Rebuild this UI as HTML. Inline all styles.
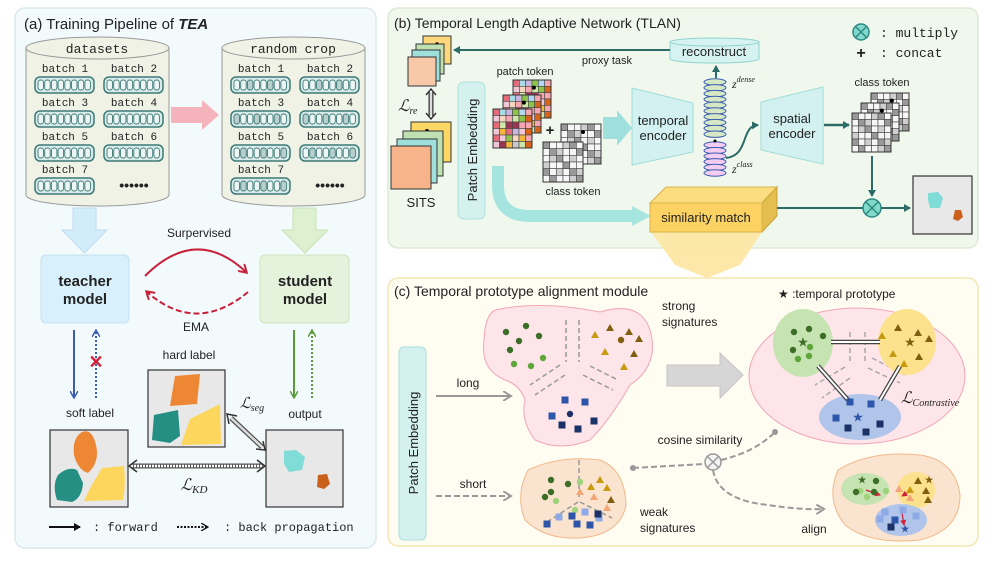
<!DOCTYPE html>
<html><head><meta charset="utf-8"><style>
html,body{margin:0;padding:0;background:#fff}
svg{display:block}
text{font-family:"Liberation Sans",sans-serif;fill:#222}
.m{font-family:"Liberation Mono",monospace}
.i{font-family:"Liberation Serif",serif;font-style:italic}
</style></head><body>
<svg id="s" width="996" height="561" viewBox="0 0 996 561" xmlns="http://www.w3.org/2000/svg">
<defs>
<marker id="ah" markerWidth="8" markerHeight="8" refX="6" refY="4" orient="auto" markerUnits="userSpaceOnUse"><path d="M0,0 L7,4 L0,8 z" fill="#2d6b66"/></marker>
<marker id="ar" markerWidth="10" markerHeight="10" refX="7" refY="5" orient="auto" markerUnits="userSpaceOnUse"><path d="M0,0 L8,5 L0,10" fill="none" stroke="#c8203a" stroke-width="2"/></marker>
<marker id="ab" markerWidth="8" markerHeight="8" refX="6" refY="4" orient="auto" markerUnits="userSpaceOnUse"><path d="M0,0 L7,4 L0,8" fill="none" stroke="#3a5db0" stroke-width="1.5"/></marker>
<marker id="ag" markerWidth="8" markerHeight="8" refX="6" refY="4" orient="auto" markerUnits="userSpaceOnUse"><path d="M0,0 L7,4 L0,8" fill="none" stroke="#5a9a3a" stroke-width="1.5"/></marker>
<marker id="agr" markerWidth="10" markerHeight="10" refX="7" refY="5" orient="auto" markerUnits="userSpaceOnUse"><path d="M0,0 L8,5 L0,10" fill="none" stroke="#999" stroke-width="2"/></marker>
<marker id="ak" markerWidth="8" markerHeight="8" refX="6" refY="4" orient="auto" markerUnits="userSpaceOnUse"><path d="M0,0 L7,4 L0,8 z" fill="#111"/></marker>
<marker id="akd" markerWidth="8" markerHeight="8" refX="6" refY="4" orient="auto" markerUnits="userSpaceOnUse"><path d="M0,0 L7,4 L0,8" fill="none" stroke="#111" stroke-width="1.3"/></marker>
<marker id="rr" markerWidth="6" markerHeight="6" refX="5" refY="3" orient="auto" markerUnits="userSpaceOnUse"><path d="M0,0 L6,3 L0,6 z" fill="#d0203a"/></marker>
</defs>

<!-- Panel A -->
<rect x="15" y="8" width="361" height="540" rx="10" fill="#f3fafc" stroke="#dce8ec" stroke-width="1.5"/>
<text x="24" y="29" font-size="15">(a) Training Pipeline of <tspan font-style="italic" font-weight="bold">TEA</tspan></text>

<g id="cyl1">
<path d="M26,48 L26,195 A71.5,11 0 0 0 169,195 L169,48" fill="#f1f2e6" stroke="#999" stroke-width="1"/>
<ellipse cx="97.5" cy="48" rx="71.5" ry="11" fill="#f1f2e6" stroke="#999"/>
</g>
<text x="97" y="53" font-size="13" class="m" text-anchor="middle">datasets</text>
<path d="M222,48 L222,195 A71.5,11 0 0 0 365,195 L365,48" fill="#f1f2e6" stroke="#999"/>
<ellipse cx="293.5" cy="48" rx="71.5" ry="11" fill="#f1f2e6" stroke="#999"/>
<text x="293" y="53" font-size="13" class="m" text-anchor="middle">random crop</text>
<g id="pills"></g>
<text x="134" y="190" font-size="14" text-anchor="middle" font-weight="bold">••••••</text>
<text x="330" y="190" font-size="14" text-anchor="middle" font-weight="bold">••••••</text>

<path d="M171,107 L202,107 L202,100 L219,115 L202,130 L202,123 L171,123 z" fill="#f4a6b0" opacity="0.85"/>
<path d="M73,208 L96,208 L96,230 L107,230 L84.5,253 L62,230 L73,230 z" fill="#d3ecfa" stroke="#bfdcf0"/>
<path d="M293,208 L316,208 L316,230 L328,230 L305,253 L282,230 L293,230 z" fill="#ddf0cf" stroke="#c8e2b5"/>

<rect x="41" y="255" width="88" height="68" rx="5" fill="#d8f0fb" stroke="#c3e0ef"/>
<text x="85" y="286" font-size="15" font-weight="bold" text-anchor="middle">teacher</text>
<text x="85" y="304" font-size="15" font-weight="bold" text-anchor="middle">model</text>
<rect x="260" y="255" width="89" height="68" rx="5" fill="#e6f3dc" stroke="#cfe5bf"/>
<text x="305" y="286" font-size="15" font-weight="bold" text-anchor="middle">student</text>
<text x="305" y="304" font-size="15" font-weight="bold" text-anchor="middle">model</text>

<text x="199" y="237" font-size="12" text-anchor="middle">Surpervised</text>
<path d="M145,276 Q196,225 246,272" fill="none" stroke="#c8203a" stroke-width="2" marker-end="url(#ar)"/>
<path d="M248,292 Q196,335 147,292" fill="none" stroke="#c8203a" stroke-width="2" stroke-dasharray="6,3" marker-end="url(#ar)"/>
<text x="196" y="331" font-size="12" text-anchor="middle">EMA</text>

<line x1="74" y1="330" x2="74" y2="397" stroke="#3a5db0" stroke-width="2" marker-end="url(#ab)"/>
<line x1="96" y1="398" x2="96" y2="331" stroke="#3a5db0" stroke-width="2" stroke-dasharray="2,2" marker-end="url(#ab)"/>
<text x="96" y="368" font-size="18" font-weight="bold" fill="#d0203a" text-anchor="middle" style="fill:#d0203a">✕</text>
<line x1="294" y1="330" x2="294" y2="397" stroke="#5a9a3a" stroke-width="2" marker-end="url(#ag)"/>
<line x1="312" y1="398" x2="312" y2="331" stroke="#5a9a3a" stroke-width="2" stroke-dasharray="2,2" marker-end="url(#ag)"/>

<text x="90" y="417" font-size="12" text-anchor="middle">soft label</text>
<text x="189" y="359" font-size="12" text-anchor="middle">hard label</text>
<text x="305" y="418" font-size="12" text-anchor="middle">output</text>

<rect x="50" y="430" width="78" height="77" fill="#e8e8e8" stroke="#333" stroke-width="1.2"/>
<path d="M82,432 Q92,428 96,445 Q100,462 88,473 Q78,470 74,455 Q72,438 82,432z" fill="#ee8733"/>
<path d="M58,475 Q68,466 77,470 L83,483 Q82,498 72,502 L57,500 Q52,485 58,475z" fill="#258f84"/>
<path d="M102,468 L124,466 Q126,485 123,500 L84,501 L90,488z" fill="#fdd65e"/>
<rect x="148" y="370" width="77" height="77" fill="#e8e8e8" stroke="#333" stroke-width="1.2"/>
<path d="M175,376 L200,374 L197,404 L170,406z" fill="#ee8733"/>
<path d="M154,415 L178,410 L180,436 L170,443 L152,440z" fill="#258f84"/>
<path d="M190,419 L220,404 L221,444 L181,445z" fill="#fdd65e"/>
<rect x="266" y="430" width="77" height="77" fill="#e8e8e8" stroke="#333" stroke-width="1.2"/>
<path d="M284,451 L296,450 L305,457 L302,470 L289,472 L284,464z" fill="#7fdcd6"/>
<path d="M318,475 L327,474 L330,484 L324,489 L317,487z" fill="#c9611c"/>

<line x1="131" y1="466" x2="263" y2="466" stroke="#555" stroke-width="5"/>
<line x1="131" y1="466" x2="263" y2="466" stroke="#fff" stroke-width="2.5" stroke-dasharray="2,1"/>
<path d="M137,460 L129,466 L137,472 M257,460 L265,466 L257,472" fill="none" stroke="#333" stroke-width="1.5"/>
<text x="194" y="490" font-size="16" class="i" text-anchor="middle">ℒ<tspan font-size="11" dy="3">KD</tspan></text>
<line x1="231" y1="418" x2="262" y2="447" stroke="#555" stroke-width="5"/>
<line x1="231" y1="418" x2="262" y2="447" stroke="#ddd" stroke-width="2.5"/>
<path d="M229,424 L227,414 L237,416 M256,449 L265,450 L263,441" fill="none" stroke="#333" stroke-width="1.5"/>
<text x="252" y="408" font-size="15" class="i" text-anchor="middle">ℒ<tspan font-size="10" dy="3">seg</tspan></text>

<line x1="49" y1="527" x2="80" y2="527" stroke="#111" stroke-width="2" marker-end="url(#ak)"/>
<text x="93" y="531" font-size="12" class="m">: forward</text>
<line x1="177" y1="527" x2="207" y2="527" stroke="#111" stroke-width="2" stroke-dasharray="2,1.5" marker-end="url(#akd)"/>
<text x="224" y="531" font-size="12" class="m">: back propagation</text>

<!-- Panel B -->
<rect x="388" y="8" width="590" height="240" rx="10" fill="#f0f8ed" stroke="#dde9d6" stroke-width="1.5"/>
<text x="394" y="28" font-size="14">(b) Temporal Length Adaptive Network (TLAN)</text>
<circle cx="861" cy="32" r="8" fill="#83d8cc" stroke="#2d8a80" stroke-width="1.5"/>
<path d="M855.5,26.5 L866.5,37.5 M866.5,26.5 L855.5,37.5" stroke="#2d8a80" stroke-width="1.5"/>
<text x="880" y="37" font-size="13" class="m">: multiply</text>
<text x="861" y="58" font-size="16" font-weight="bold" text-anchor="middle">+</text>
<text x="880" y="57" font-size="13" class="m">: concat</text>

<path d="M670,42 L670,59 A44.5,4 0 0 0 759,59 L759,42" fill="#d6f3f1" stroke="#8fd3cd"/>
<ellipse cx="714.5" cy="42" rx="44.5" ry="4" fill="#d6f3f1" stroke="#8fd3cd"/>
<text x="714" y="56" font-size="13" text-anchor="middle">reconstruct</text>
<line x1="670" y1="50" x2="454" y2="50" stroke="#2d6b66" stroke-width="2" marker-end="url(#ah)"/>
<text x="607" y="64" font-size="11" text-anchor="middle">proxy task</text>

<rect x="423" y="36" width="28" height="28" fill="#fcd87a" stroke="#333"/>
<circle cx="437" cy="44" r="1.8" fill="#000"/>
<rect x="416" y="44" width="28" height="30" fill="#bfe0b0" stroke="#333"/>
<rect x="412" y="50" width="28" height="31" fill="#9fe0dc" stroke="#333"/>
<rect x="408" y="57" width="28" height="29" fill="#f8c9a8" stroke="#333"/>
<line x1="431" y1="92" x2="431" y2="116" stroke="#333" stroke-width="5"/>
<line x1="431" y1="92" x2="431" y2="116" stroke="#ddd" stroke-width="2.5"/>
<path d="M426,95 L431,89 L436,95 M426,113 L431,119 L436,113" fill="none" stroke="#333" stroke-width="1.4"/>
<text x="398" y="111" font-size="16" class="i">ℒ<tspan font-size="10" dy="3">re</tspan></text>
<rect x="411" y="122" width="40" height="40" fill="#fcd766" stroke="#333"/>
<circle cx="427" cy="131" r="2" fill="#000"/>
<rect x="403" y="131" width="40" height="45" fill="#bfe0b0" stroke="#333"/>
<rect x="397" y="139" width="40" height="44" fill="#9fe0dc" stroke="#333"/>
<rect x="391" y="146" width="40" height="43" fill="#f7b48a" stroke="#333"/>
<text x="421" y="207" font-size="13" text-anchor="middle">SITS</text>

<rect x="458" y="82" width="27" height="137" rx="6" fill="#d4f1ef" stroke="#a9e1dc"/>
<text transform="translate(477,150) rotate(-90)" font-size="13" text-anchor="middle">Patch Embedding</text>

<g id="grids"></g>
<text x="525" y="75" font-size="11" text-anchor="middle">patch token</text>
<text x="550" y="135" font-size="15" font-weight="bold" text-anchor="middle">+</text>
<text x="573" y="195" font-size="11" text-anchor="middle">class token</text>
<text x="882" y="86" font-size="11" text-anchor="middle">class token</text>

<path d="M603,117 L617,117 L617,110 L632,128 L617,146 L617,139 L603,139 z" fill="#9fe0dc"/>
<path d="M632,88 L693,103 L693,152 L632,165 z" fill="#d2f1f0" stroke="#9fdcd6"/>
<text x="663" y="125" font-size="13" text-anchor="middle">temporal</text>
<text x="663" y="140" font-size="13" text-anchor="middle">encoder</text>
<path d="M761,102 L823,87 L823,164 L761,150 z" fill="#d2f1f0" stroke="#9fdcd6"/>
<text x="792" y="123" font-size="13" text-anchor="middle">spatial</text>
<text x="792" y="138" font-size="13" text-anchor="middle">encoder</text>
<g id="zst"></g>
<line x1="716" y1="78" x2="716" y2="66" stroke="#2d6b66" stroke-width="2" marker-end="url(#ah)"/>
<text x="732" y="88" font-size="12" class="i">z<tspan font-size="8" dy="-6">dense</tspan></text>
<text x="732" y="173" font-size="12" class="i">z<tspan font-size="8" dy="-6">class</tspan></text>
<path d="M726,158 C750,155 740,126 758,125" fill="none" stroke="#2d6b66" stroke-width="2" marker-end="url(#ah)"/>
<line x1="824" y1="125" x2="849" y2="125" stroke="#2d6b66" stroke-width="2.5" marker-end="url(#ah)"/>
<line x1="872" y1="156" x2="872" y2="196" stroke="#2d6b66" stroke-width="2" marker-end="url(#ah)"/>

<path d="M498,166 L498,185 Q498,216 530,216 L634,216" fill="none" stroke="#a6e4df" stroke-width="12"/>
<path d="M632,206 L651,216 L632,226 z" fill="#a6e4df"/>

<path d="M651,232 L762,232 L740,265 L707,278 L675,265 z" fill="#fde6a0" opacity="0.9"/>
<path d="M650,203 L666,187 L777,187 L762,203 z" fill="#fbdc7e" stroke="#d8b34a"/>
<path d="M762,203 L777,187 L777,216 L762,232 z" fill="#e4bf50" stroke="#c9a43b"/>
<rect x="650" y="203" width="112" height="29" fill="#fcd262" stroke="#d8b34a"/>
<text x="706" y="222" font-size="13" text-anchor="middle">similarity match</text>
<line x1="777" y1="208" x2="863" y2="208" stroke="#2d6b66" stroke-width="2"/>
<circle cx="872" cy="208" r="9" fill="#83d8cc" stroke="#2d8a80" stroke-width="1.5"/>
<path d="M866,202 L878,214 M878,202 L866,214" stroke="#2d8a80" stroke-width="1.5"/>
<line x1="881" y1="208" x2="910" y2="208" stroke="#2d6b66" stroke-width="2" marker-end="url(#ah)"/>
<rect x="913" y="176" width="59" height="58" fill="#e8e8e8" stroke="#333" stroke-width="1.2"/>
<path d="M928,193 L938,192 L943,198 L940,208 L930,208 L928,200z" fill="#7fdcd6"/>
<path d="M955,210 L961,210 L963,217 L958,221 L953,219z" fill="#c9611c"/>

<!-- Panel C -->
<rect x="388" y="278" width="590" height="268" rx="10" fill="#fffcf1" stroke="#f6e6b2" stroke-width="1.5"/>
<text x="394" y="296" font-size="14">(c) Temporal prototype alignment module</text>
<rect x="399" y="347" width="27" height="193" rx="5" fill="#d4f1ef" stroke="#a9e1dc"/>
<text transform="translate(418,443) rotate(-90)" font-size="13" text-anchor="middle">Patch Embedding</text>

<path d="M495,310 Q540,300 600,312 Q640,300 650,330 Q660,365 630,385 Q610,420 590,440 Q560,452 535,440 Q520,420 525,400 Q520,385 505,380 Q480,370 484,340 Q485,315 495,310z" fill="#fde5ea" stroke="#f1a6b6"/>
<path d="M566,320 L566,362 M579,320 L579,362 M560,365 L530,385 M565,375 L535,395 M583,375 L613,390 M590,366 L618,380" stroke="#999" stroke-width="1.5" stroke-dasharray="5,3"/>
<text x="662" y="310" font-size="12">strong</text>
<text x="662" y="326" font-size="12">signatures</text>
<line x1="436" y1="396" x2="510" y2="396" stroke="#999" stroke-width="2" marker-end="url(#agr)"/>
<text x="468" y="387" font-size="12" text-anchor="middle">long</text>
<line x1="436" y1="496" x2="510" y2="496" stroke="#999" stroke-width="2" stroke-dasharray="6,3" marker-end="url(#agr)"/>
<text x="473" y="488" font-size="12" text-anchor="middle">short</text>
<path d="M528,470 Q560,455 600,460 Q625,470 626,505 Q620,535 580,538 Q545,540 525,520 Q515,495 528,470z" fill="#fbe4cf" stroke="#f1b88a"/>
<path d="M579,460 L579,500 M578,502 L547,522 M580,502 L612,518" stroke="#999" stroke-width="1.5" stroke-dasharray="5,3"/>
<text x="640" y="516" font-size="12">weak</text>
<text x="640" y="532" font-size="12">signatures</text>

<path d="M667,365 L720,365 L720,353 L743,375 L720,398 L720,386 L667,386 z" fill="#d6d6d6" stroke="#c4c4c4"/>
<ellipse cx="857" cy="376" rx="108" ry="68" fill="#fde5ea" stroke="#f1a6b6"/>
<path d="M850,332 L850,362 M865,332 L865,362 M845,367 L815,385 M850,378 L822,398 M868,368 L900,383 M872,358 L905,375" stroke="#aaa" stroke-width="1.5" stroke-dasharray="5,3"/>
<ellipse cx="803" cy="343" rx="30" ry="34" fill="#c6e3b2"/>
<ellipse cx="907" cy="342" rx="29" ry="33" fill="#fde28d"/>
<ellipse cx="860" cy="417" rx="41" ry="23" fill="#b1c5ea"/>
<text x="778" y="298" font-size="12">★ :temporal prototype</text>
<text x="901" y="403" font-size="16" class="i">ℒ<tspan font-size="10" dy="3">Contrastive</tspan></text>
<g stroke="#444" stroke-width="4.5"><line x1="831" y1="342" x2="880" y2="342"/><line x1="818" y1="366" x2="848" y2="400"/><line x1="900" y1="366" x2="880" y2="400"/></g>
<g stroke="#fff" stroke-width="2"><line x1="831" y1="342" x2="880" y2="342"/><line x1="818" y1="366" x2="848" y2="400"/><line x1="900" y1="366" x2="880" y2="400"/></g>

<text x="700" y="444" font-size="12" text-anchor="middle">cosine similarity</text>
<path d="M633,468 L704,464" fill="none" stroke="#999" stroke-width="2" stroke-dasharray="6,3"/>
<circle cx="633" cy="468" r="3" fill="#999"/>
<path d="M721,460 Q755,452 775,432" fill="none" stroke="#999" stroke-width="2" stroke-dasharray="6,3"/>
<circle cx="775" cy="432" r="3" fill="#999"/>
<circle cx="713" cy="462" r="8" fill="#f4f4f4" stroke="#999" stroke-width="1.5"/>
<path d="M707.5,456.5 L718.5,467.5 M718.5,456.5 L707.5,467.5" stroke="#999" stroke-width="1.5"/>
<path d="M713,470 Q718,500 768,505 Q800,510 823,509" fill="none" stroke="#999" stroke-width="2" stroke-dasharray="6,3" marker-end="url(#agr)"/>
<text x="814" y="533" font-size="12" text-anchor="middle">align</text>
<path d="M838,470 Q870,450 920,455 Q955,460 960,495 Q960,530 920,540 Q870,545 845,525 Q825,500 838,470z" fill="#fbe4cf" stroke="#f1b88a"/>
<ellipse cx="865" cy="489" rx="24" ry="16" fill="#c6e3b2"/>
<ellipse cx="916" cy="490" rx="19" ry="18" fill="#fde28d"/>
<ellipse cx="901" cy="520" rx="26" ry="16" fill="#b1c5ea"/>
<g stroke="#d0203a" stroke-width="1.2"><line x1="866" y1="490" x2="880" y2="495" marker-end="url(#rr)"/><line x1="912" y1="490" x2="902" y2="496" marker-end="url(#rr)"/><line x1="902" y1="513" x2="904" y2="525" marker-end="url(#rr)"/></g>
<g id="pts"></g>
</svg>
<script>
var NS="http://www.w3.org/2000/svg";
function el(p,t,a){var e=document.createElementNS(NS,t);for(var k in a)e.setAttribute(k,a[k]);p.appendChild(e);return e;}
var P=document.getElementById('pills');
var xs=[35,104],ys=[77,111,145,178];
function pill(x,y,crop){el(P,'rect',{x:x,y:y,width:59,height:16,rx:5,fill:'#d9ebe9',stroke:'#3c7a78','stroke-width':1.5});
for(var i=0;i<8;i++){el(P,'rect',{x:x+3+i*6.7,y:y+3,width:5.5,height:10,rx:2.5,fill:(crop&&(i%3==(y%3)))?'#b9cfcd':'#eef6f5',stroke:'#3c7a78','stroke-width':0.9});}}
function lbl(x,y,t){var e=el(P,'text',{x:x,y:y,'font-size':11,'class':'m','text-anchor':'middle'});e.textContent=t;}
[[0,0],[1,0],[0,1],[1,1],[0,2],[1,2],[0,3]].forEach(function(c,n){
 pill(xs[c[0]],ys[c[1]],false);lbl(xs[c[0]]+30,ys[c[1]]-5,'batch '+(n+1));
 pill(xs[c[0]]+196,ys[c[1]],true);lbl(xs[c[0]]+226,ys[c[1]]-5,'batch '+(n+1));});
var G=document.getElementById('grids');
var pal=['#e66b7a','#f6a6b0','#c9c9c9','#a7dde8','#f7e3a0','#cfe6a9','#c8b6e0','#f0c7d6','#d8641c','#8cc34a','#9a3552','#f5d7c0','#b0d8f0','#f4b73a'];
function grid(x,y,sz,n,col,dot){var c=sz/n;for(var i=0;i<n;i++)for(var j=0;j<n;j++){var f=col?pal[(i*7+j*3+((i*j)%5))%pal.length]:(((i*5+j*3)%4==0)?'#999':(((i+j)%3==0)?'#cfcfcf':'#f6f6f6'));el(G,'rect',{x:x+j*c,y:y+i*c,width:c,height:c,fill:f,stroke:'#444','stroke-width':0.6});}
el(G,'rect',{x:x,y:y,width:sz,height:sz,fill:'none',stroke:'#333','stroke-width':1});if(dot)el(G,'circle',{cx:x+sz*0.55,cy:y+sz*0.2,r:2,fill:'#000'});}
grid(513,80,38,6,true,true);grid(503,95,38,6,true,true);grid(493,109,39,6,true,false);
grid(561,124,40,6,false,true);grid(543,142,40,6,false,false);
grid(871,93,38,6,false,true);grid(861,103,38,6,false,true);grid(852,113,39,6,false,false);
var Z=document.getElementById('zst');
for(var k=0;k<10;k++)el(Z,'ellipse',{cx:715,cy:82+k*5.8,rx:11,ry:3.2,fill:'#d7e8c4',stroke:'#3a5db0','stroke-width':1});
for(var k=0;k<6;k++)el(Z,'ellipse',{cx:715,cy:145+k*5.6,rx:11,ry:3.2,fill:'#f5cdf0',stroke:'#3a5db0','stroke-width':1});
el(Z,'circle',{cx:715,cy:141,r:1.5,fill:'#000'});
var T=document.getElementById('pts');
function dot(x,y,c){el(T,'circle',{cx:x,cy:y,r:3.2,fill:c});}
function tri(x,y,c){el(T,'path',{d:'M'+x+','+(y-4)+' L'+(x+4)+','+(y+3)+' L'+(x-4)+','+(y+3)+'z',fill:c});}
function sq(x,y,c){el(T,'rect',{x:x-3.5,y:y-3.5,width:7,height:7,fill:c});}
function star(x,y,c,s){var e=el(T,'text',{x:x,y:y+(s||12)/3,'font-size':s||12,'text-anchor':'middle',style:'fill:'+c});e.textContent='★';}
var dg='#3d6e28',lg='#5ea53a',ay='#c79a10',ab='#806010',bl='#2d56a8',db='#1c3266';
[[506,332,dg],[526,326,dg],[519,341,dg],[539,336,dg],[510,350,dg],[543,358,lg],[514,364,lg],[531,366,lg],[621,340,ab],[570,414,db]].forEach(function(p){dot(p[0],p[1],p[2]);});
[[595,335,ay],[610,328,ab],[629,332,ab],[639,339,ab],[605,352,ay],[634,354,ab],[624,367,ay]].forEach(function(p){tri(p[0],p[1],p[2]);});
[[565,400,bl],[585,402,bl],[552,416,bl],[562,425,db],[578,429,db],[594,421,db]].forEach(function(p){sq(p[0],p[1],p[2]);});
[[551,480,dg],[568,484,dg],[551,492,dg],[545,497,dg],[580,482,'#9fd47c'],[556,501,'#9fd47c'],[575,510,'#9fd47c']].forEach(function(p){dot(p[0],p[1],p[2]);});
[[600,480,ay],[591,487,ay],[607,488,ay],[611,500,ab],[580,492,'#f4a57a'],[594,497,'#f4a57a'],[607,508,'#f4a57a']].forEach(function(p){tri(p[0],p[1],p[2]);});
[[585,512,'#8eaae6'],[559,517,'#8eaae6'],[599,518,'#8eaae6'],[572,516,bl],[577,524,bl],[547,524,bl],[590,525,bl],[598,514,db]].forEach(function(p){sq(p[0],p[1],p[2]);});
[[794,332,dg],[809,329,dg],[823,336,dg],[793,350,dg],[810,347,lg],[798,359,lg],[809,356,lg]].forEach(function(p){dot(p[0],p[1],p[2]);});
star(803,342,dg,13);
[[882,336,ay],[898,328,ab],[918,333,ab],[929,339,ab],[893,354,ay],[919,357,ab],[904,364,ay]].forEach(function(p){tri(p[0],p[1],p[2]);});
star(910,342,ab,13);
[[850,402,bl],[871,404,bl],[836,418,bl],[848,428,db],[866,432,db],[880,424,db]].forEach(function(p){sq(p[0],p[1],p[2]);});
star(858,417,bl,13);
[[876,481,dg],[860,491,'#9fd47c'],[856,492,dg],[874,492,dg],[886,491,'#9fd47c'],[867,497,'#9fd47c']].forEach(function(p){dot(p[0],p[1],p[2]);});
star(862,480,dg,11);
[[918,481,ab],[910,490,ay],[926,491,ab],[928,500,ab],[899,489,'#f4a57a'],[910,498,'#f4a57a']].forEach(function(p){tri(p[0],p[1],p[2]);});
star(929,480,ab,11);
[[885,512,'#8eaae6'],[880,519,'#8eaae6'],[916,516,'#8eaae6'],[903,510,'#8eaae6'],[895,520,bl],[891,527,db]].forEach(function(p){sq(p[0],p[1],p[2]);});
star(905,529,bl,11);
</script>
</body></html>
